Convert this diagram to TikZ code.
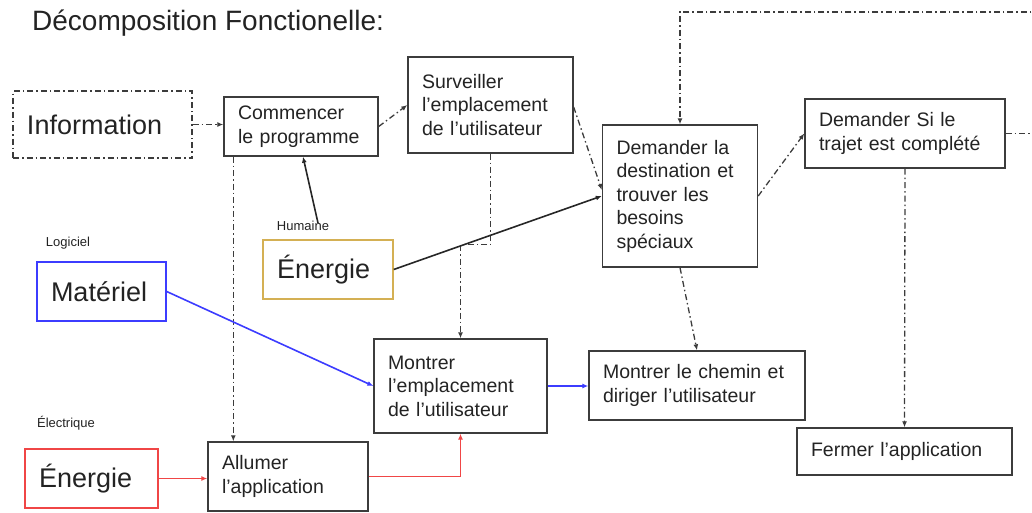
\documentclass[tikz,border=0pt]{standalone}
\usepackage{fontspec}
\setmainfont{Liberation Sans}
\usetikzlibrary{arrows.meta}
\definecolor{gris}{RGB}{60,60,60}
\definecolor{texte}{RGB}{35,35,35}
\definecolor{mor}{RGB}{212,176,84}
\definecolor{mbleu}{RGB}{60,60,255}
\definecolor{mrouge}{RGB}{240,70,70}
\tikzset{boite/.style = {draw = gris, line width = 1.4pt, inner xsep = 14pt, inner ysep = 0pt, align = left, text = texte, font = \fontsize{19.5}{23.5}\selectfont}}
\tikzset{grand/.style = {font = \fontsize{27}{31}\selectfont}}
\tikzset{etiq/.style = {inner sep = 0pt, text = texte, font = \fontsize{13}{15}\selectfont}}
\tikzset{tiret/.style = {dash pattern = on 6pt off 3pt on 1.5pt off 3pt}}
\tikzset{lien/.style = {draw = gris, line width = 1.3pt, tiret, ->}}
\tikzset{trait/.style = {draw = black!85, line width = 1.6pt, ->}}

\begin{document}
\begin{tikzpicture}[x = 1pt, y = -1pt, >= {Latex[length = 6pt, width = 5pt]}]
      \useasboundingbox (0, 0) rectangle (1032, 512);
      \clip (0, 0) rectangle (1032, 512);

      \node [anchor = west, inner sep = 0pt, text = texte, font = \fontsize{28}{32}\selectfont] (titre) at (32, 23) {Décomposition Fonctionelle:};

      \node [boite, grand, tiret, text width = 151pt, minimum height = 67pt] (info) at (102.5, 124.5) {Information};
      \node [boite, text width = 126pt, minimum height = 59pt] (commencer) at (301, 126.5) {Commencer\\le programme};
      \node [boite, text width = 137pt, minimum height = 96pt] (surveiller) at (490.5, 105) {Surveiller\\l'emplacement\\de l'utilisateur};
      \node [boite, text width = 127pt, minimum height = 142pt] (destination) at (680, 196) {Demander la\\destination et\\trouver les\\besoins\\spéciaux};
      \node [boite, text width = 172pt, minimum height = 69pt] (trajet) at (905, 133.5) {Demander Si le\\trajet est complété};
      \node [boite, grand, draw = mor, text width = 102pt, minimum height = 59pt] (humaine) at (328, 269.5) {Énergie};
      \node [boite, grand, draw = mbleu, text width = 101pt, minimum height = 59pt] (materiel) at (101.5, 291.5) {Matériel};
      \node [boite, text width = 145pt, minimum height = 94pt] (emplacement) at (460.5, 386) {Montrer\\l'emplacement\\de l'utilisateur};
      \node [boite, text width = 188pt, minimum height = 69pt] (chemin) at (697, 385.5) {Montrer le chemin et\\diriger l'utilisateur};
      \node [boite, text width = 187pt, minimum height = 47pt] (fermer) at (904.5, 451.5) {Fermer l'application};
      \node [boite, grand, draw = mrouge, text width = 105pt, minimum height = 59pt] (electrique) at (91.5, 478.5) {Énergie};
      \node [boite, text width = 132pt, minimum height = 69pt] (allumer) at (288, 476.5) {Allumer\\l'application};

      \node [etiq] (lbllog) at (68, 243) {Logiciel};
      \node [etiq] (lblhum) at (303, 226) {Humaine};
      \node [etiq] (lblelec) at (66, 423) {Électrique};

      \coordinate (boucle) at (1050, 12);

      \draw [lien] (info.east) -- (info.east -| commencer.west);
      \draw [lien] (commencer.east) -- (surveiller.west);
      \draw [lien] ([yshift = -2pt]surveiller.east) -- ([yshift = 6pt]destination.west);
      \draw [lien] (destination.east) -- (trajet.west);
      \draw [lien] (trajet.east) -| (boucle) -| (destination.north);
      \draw [lien] (surveiller.south) -- ++(0, 91) -| (emplacement.north);
      \draw [lien] (destination.south) -- (chemin.north);
      \draw [lien] (trajet.south) -- (fermer.north);
      \draw [lien] ([xshift = 10pt]commencer.south west) -- ([xshift = 10pt]commencer.south west |- allumer.north);

      \draw [trait] ([xshift = 15pt, yshift = 3pt]lblhum.center) -- ([xshift = 2pt]commencer.south);
      \draw [trait] (humaine.east) -- (destination.west);

      \draw [trait, draw = mbleu] (materiel.east) -- (emplacement.west);
      \draw [trait, draw = mbleu] (emplacement.east) -- (emplacement.east -| chemin.west);
      \draw [trait, draw = mrouge] (electrique.east) -- (electrique.east -| allumer.west);
      \draw [trait, draw = mrouge] (allumer.east) -| (emplacement.south);
    \end{tikzpicture}
\end{document}
